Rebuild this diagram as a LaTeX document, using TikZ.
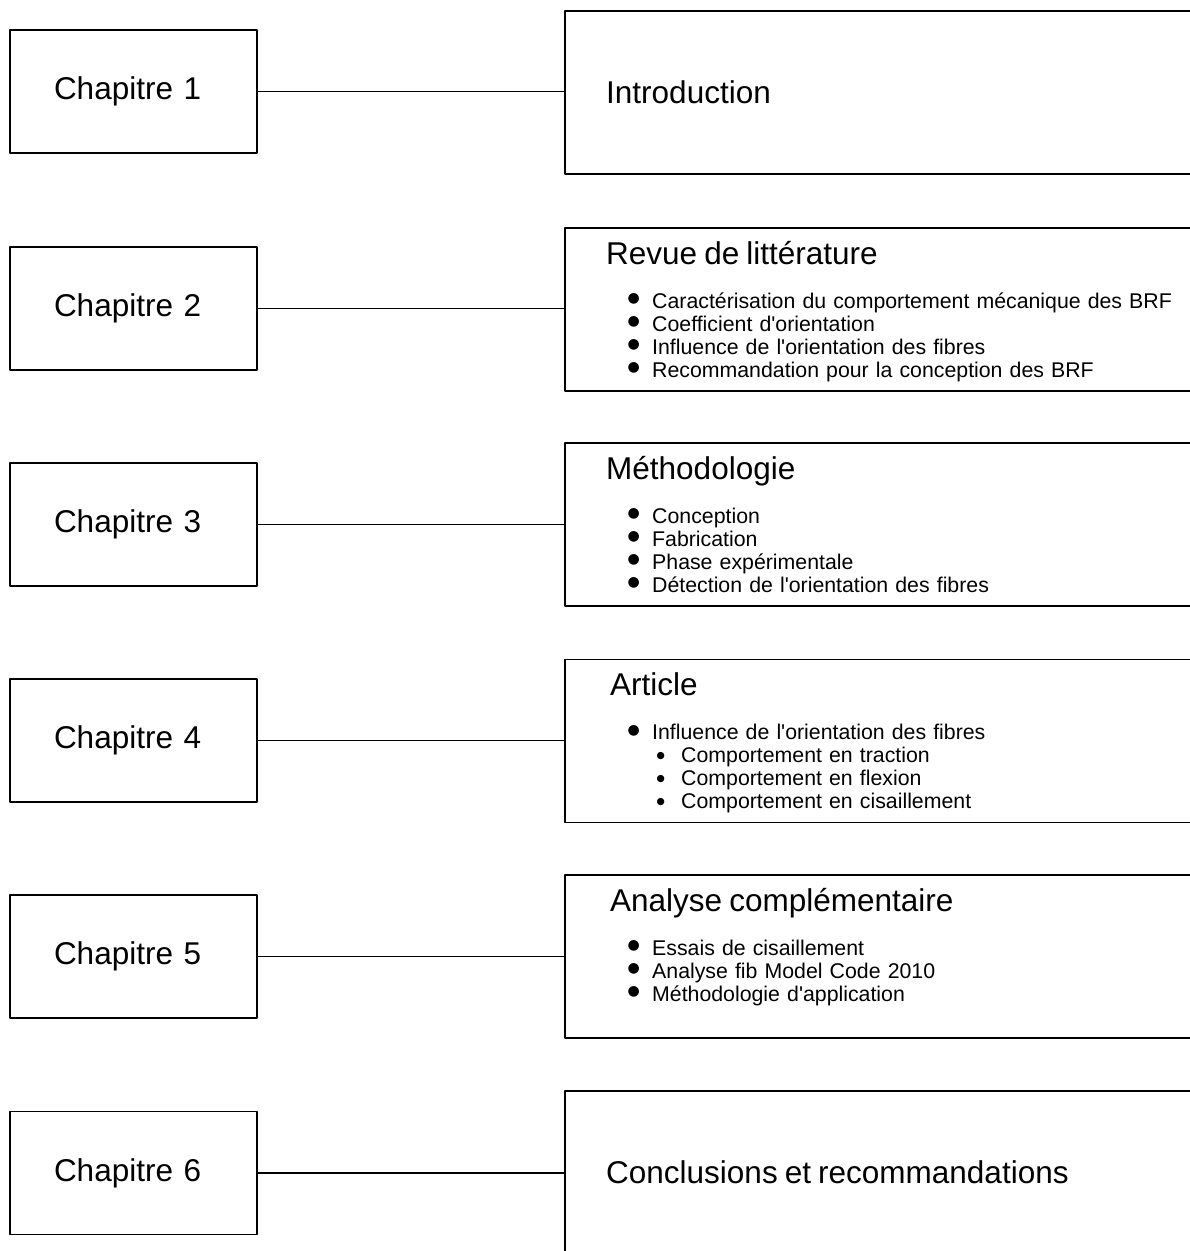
\documentclass[tikz,border=0pt]{standalone}
\usepackage{fontspec}
\setmainfont{Liberation Sans}
\newfontfamily\symboles{DejaVu Sans}
\newcommand{\grand}{\fontsize{31.5bp}{36bp}\selectfont}
\newcommand{\petit}{\fontsize{21.3bp}{23bp}\selectfont}
\newcommand{\titre}[1]{{\grand\rule{0pt}{30bp}#1}}
\newcommand{\apos}{\textquotesingle}
\newcommand{\puce}{\hspace*{21.5bp}\makebox[24.5bp][l]{\raisebox{5.5bp}{\symboles\fontsize{14bp}{14bp}\selectfont ●}}}
\newcommand{\souspuce}{\hspace*{50.5bp}\makebox[24.5bp][l]{\raisebox{4bp}{\symboles\fontsize{9.5bp}{9.5bp}\selectfont ●}}}
\tikzset{
  chapitre/.style={draw,line width=1.6bp,align=left,text width=159bp,inner xsep=44bp,minimum height=123bp,font=\grand},
  section/.style={draw,line width=1.6bp,minimum width=640bp,minimum height=163bp},
  contenu/.style={anchor=north west,inner sep=0pt,align=left,text width=580bp,font=\petit},
}
\begin{document}
\begin{tikzpicture}[line join=bevel,]
\useasboundingbox (0bp,0bp) rectangle (1190bp,1251bp);
\clip (0bp,0bp) rectangle (1190bp,1251bp);
%%
\node (chap_1) at (133.5bp,1159.5bp) [chapitre] {Chapitre 1};
  \node (chap_2) at (133.5bp,942.5bp) [chapitre] {Chapitre 2};
  \node (chap_3) at (133.5bp,726.5bp) [chapitre] {Chapitre 3};
  \node (chap_4) at (133.5bp,510.5bp) [chapitre] {Chapitre 4};
  \node (chap_5) at (133.5bp,294.5bp) [chapitre] {Chapitre 5};
  \node (chap_6) at (133.5bp,78.0bp) [chapitre] {Chapitre 6};
%
\node (sec_1) at (885bp,1158.5bp) [section] {};
  \node (sec_2) at (885bp,941.5bp) [section] {};
  \node (sec_3) at (885bp,726.5bp) [section] {};
  \node (sec_4) at (885bp,510.0bp) [section] {};
  \node (sec_5) at (885bp,294.5bp) [section] {};
  \node (sec_6) at (885bp,78.5bp) [section] {};
%
\node (txt_1) at (606bp,1178bp) [contenu] {\titre{Introduction}};
  \node (txt_2) at (606bp,1017bp) [contenu] {\titre{Revue de littérature}\\[21bp]
    \puce Caractérisation du comportement mécanique des BRF\\
    \puce Coefficient d\apos orientation\\
    \puce Influence de l\apos orientation des fibres\\
    \puce Recommandation pour la conception des BRF};
  \node (txt_3) at (606bp,802bp) [contenu] {\titre{Méthodologie}\\[21bp]
    \puce Conception\\
    \puce Fabrication\\
    \puce Phase expérimentale\\
    \puce Détection de l\apos orientation des fibres};
  \node (txt_4) at (606bp,585.5bp) [contenu] {\titre{\hspace*{4bp}Article}\\[21bp]
    \puce Influence de l\apos orientation des fibres\\
    \souspuce Comportement en traction\\
    \souspuce Comportement en flexion\\
    \souspuce Comportement en cisaillement};
  \node (txt_5) at (606bp,370bp) [contenu] {\titre{\hspace*{4bp}Analyse complémentaire}\\[21bp]
    \puce Essais de cisaillement\\
    \puce Analyse fib Model Code 2010\\
    \puce Méthodologie d\apos application};
  \node (txt_6) at (606bp,98bp) [contenu] {\titre{Conclusions et recommandations}};
%
\draw [black,line width=1.3bp] (chap_1) -- (chap_1 -| sec_1.west);
  \draw [black,line width=1.3bp] (chap_2) -- (chap_2 -| sec_2.west);
  \draw [black,line width=1.3bp] (chap_3) -- (chap_3 -| sec_3.west);
  \draw [black,line width=1.3bp] (chap_4) -- (chap_4 -| sec_4.west);
  \draw [black,line width=1.3bp] (chap_5) -- (chap_5 -| sec_5.west);
  \draw [black,line width=1.3bp] (chap_6) -- (chap_6 -| sec_6.west);
%
\end{tikzpicture}
\end{document}
